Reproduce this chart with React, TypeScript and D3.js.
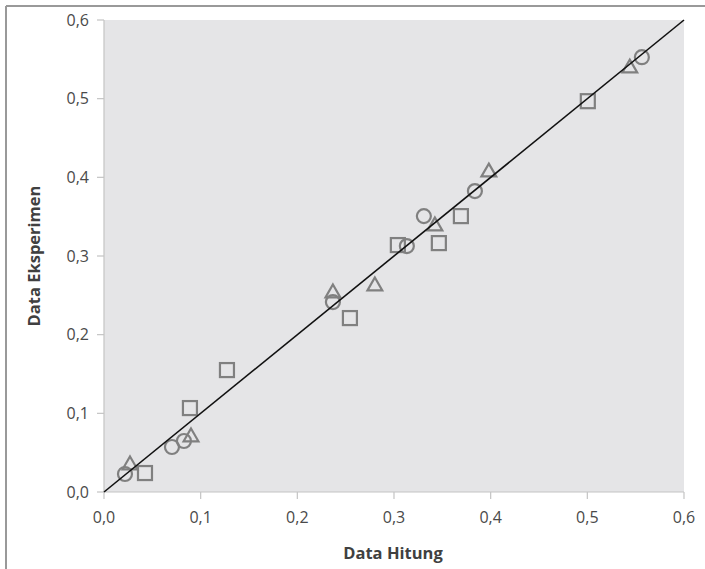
import React from "react";
import * as d3 from "d3";

const ticks = [0, 0.1, 0.2, 0.3, 0.4, 0.5, 0.6];
const squaresX = [0.0424, 0.0889, 0.1272, 0.2544, 0.304, 0.3464, 0.3692, 0.5005];
const squaresY = [0.0241, 0.1067, 0.155, 0.2211, 0.3139, 0.3164, 0.3507, 0.4968];
const circlesX = [0.0217, 0.0703, 0.0827, 0.2368, 0.3133, 0.3309, 0.3837, 0.5564];
const circlesY = [0.0229, 0.0572, 0.0648, 0.2414, 0.3126, 0.3507, 0.3825, 0.5527];
const trianglesX = [0.0269, 0.09, 0.2368, 0.2802, 0.3423, 0.3981, 0.5439];
const trianglesY = [0.0343, 0.0699, 0.2529, 0.2618, 0.338, 0.4066, 0.5388];
const lineX = [0, 0.6];
const lineY = [0, 0.6];

const W = 705;
const H = 569;
const L = 104, R = 684, T = 20, B = 492;

export default function App() {
  const x = d3.scaleLinear().domain([0, 0.6]).range([L, R]);
  const y = d3.scaleLinear().domain([0, 0.6]).range([B, T]);
  const fmt = (v: number) => d3.format(".1f")(v).replace(".", ",");
  const mk = "#808080";
  const font = "'Open Sans', 'Liberation Sans', sans-serif";
  const line = d3.line<number>().x((_, i) => x(lineX[i])).y((_, i) => y(lineY[i]));
  const tri = d3.symbol().type(d3.symbolTriangle).size(95)();
  return (
    <svg width={W} height={H} style={{ position: "absolute", left: 0, top: 0, background: "#fff" }}>
      <line x1={6} y1={6} x2={6} y2={H} stroke="#999" strokeWidth={2} />
      <line x1={6} y1={6} x2={W} y2={6} stroke="#999" strokeWidth={2} />
      <rect x={L} y={T} width={R - L} height={B - T} fill="#e5e5e7" />
      <line x1={L} y1={T} x2={L} y2={B} stroke="#c4c4c4" strokeWidth={1.2} />
      <line x1={L} y1={B} x2={R} y2={B} stroke="#c4c4c4" strokeWidth={1.2} />
      {ticks.map((t) => (
        <g key={"y" + t}>
          <line x1={L - 7} x2={L} y1={y(t)} y2={y(t)} stroke="#c4c4c4" strokeWidth={1.2} />
          <text x={L - 15} y={y(t)} dy="0.35em" textAnchor="end" fontFamily={font} fontSize={16} fill="#4a4a4a">
            {fmt(t)}
          </text>
        </g>
      ))}
      {ticks.map((t) => (
        <g key={"x" + t}>
          <line x1={x(t)} x2={x(t)} y1={B} y2={B + 7} stroke="#c4c4c4" strokeWidth={1.2} />
          <text x={x(t)} y={B + 31} textAnchor="middle" fontFamily={font} fontSize={16} fill="#4a4a4a">
            {fmt(t)}
          </text>
        </g>
      ))}
      <text x={(L + R) / 2 - 1} y={559} textAnchor="middle" fontFamily={font} fontSize={16.5} fontWeight="bold" fill="#404040">
        Data Hitung
      </text>
      <text transform={`translate(40, ${(T + B) / 2}) rotate(-90)`} textAnchor="middle" fontFamily={font} fontSize={16.5} fontWeight="bold" fill="#404040">
        Data Eksperimen
      </text>
      {squaresX.map((v, i) => (
        <rect key={"s" + i} x={x(v) - 7} y={y(squaresY[i]) - 7} width={14} height={14} fill="none" stroke={mk} strokeWidth={2.2} />
      ))}
      {circlesX.map((v, i) => (
        <circle key={"c" + i} cx={x(v)} cy={y(circlesY[i])} r={7} fill="none" stroke={mk} strokeWidth={2.2} />
      ))}
      {trianglesX.map((v, i) => (
        <path key={"t" + i} d={tri || ""} transform={`translate(${x(v)},${y(trianglesY[i])})`} fill="none" stroke={mk} strokeWidth={2.2} />
      ))}
      <path d={line(lineX) || ""} stroke="#111" strokeWidth={1.6} fill="none" />
    </svg>
  );
}
